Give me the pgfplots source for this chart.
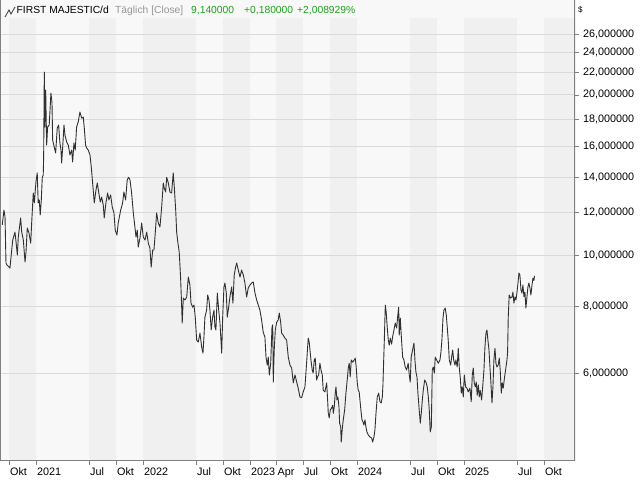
\documentclass[border=0pt]{standalone}
\usepackage{pgfplots}
\pgfplotsset{compat=1.18}
\usepackage{fontspec}
\setmainfont{Liberation Sans}
\definecolor{bglight}{RGB}{248,248,248}
\definecolor{bgdark}{RGB}{240,240,240}
\definecolor{gridc}{RGB}{218,218,218}
\definecolor{framec}{RGB}{128,128,128}
\definecolor{linec}{RGB}{48,48,48}
\definecolor{greenc}{RGB}{30,160,30}
\definecolor{grayt}{RGB}{150,150,150}

\pgfplotstableread{
t v
2020.685 11.39
2020.701 12.15
2020.711 11.79
2020.720 9.66
2020.729 9.58
2020.757 9.45
2020.767 9.91
2020.783 10.67
2020.804 11.04
2020.814 10.58
2020.826 10.00
2020.835 10.81
2020.857 11.74
2020.867 11.04
2020.882 10.67
2020.898 9.70
2020.907 10.13
2020.919 11.24
2020.935 11.00
2020.951 10.53
2020.960 11.49
2020.975 13.08
2020.985 12.53
2021.000 13.72
2021.012 14.27
2021.021 12.53
2021.031 12.69
2021.040 11.89
2021.050 12.69
2021.059 14.00
2021.068 14.14
2021.072 15.29
2021.078 22.07
2021.084 17.40
2021.091 20.43
2021.100 16.10
2021.109 17.40
2021.124 17.56
2021.140 20.16
2021.150 19.31
2021.156 16.45
2021.171 15.96
2021.184 15.55
2021.199 17.33
2021.212 17.56
2021.224 16.24
2021.234 15.75
2021.240 14.89
2021.250 15.96
2021.262 17.56
2021.271 16.81
2021.287 16.31
2021.302 16.10
2021.318 15.42
2021.334 15.75
2021.343 14.96
2021.355 16.24
2021.367 15.75
2021.380 17.40
2021.395 17.79
2021.411 18.57
2021.427 18.09
2021.442 18.17
2021.451 17.40
2021.464 16.10
2021.474 15.89
2021.489 15.75
2021.505 15.42
2021.517 14.64
2021.533 13.42
2021.545 12.53
2021.561 13.25
2021.573 13.66
2021.586 13.14
2021.601 12.58
2021.614 12.85
2021.629 12.42
2021.638 11.74
2021.654 12.53
2021.670 13.08
2021.682 12.69
2021.698 12.97
2021.713 12.31
2021.729 12.00
2021.741 11.14
2021.757 10.90
2021.769 11.49
2021.792 12.15
2021.810 12.53
2021.822 13.14
2021.838 12.69
2021.853 13.84
2021.866 14.00
2021.879 13.84
2021.894 13.08
2021.910 12.00
2021.925 11.29
2021.935 10.81
2021.947 11.14
2021.956 10.35
2021.972 10.76
2021.988 11.49
2022.003 10.81
2022.019 10.67
2022.035 11.04
2022.050 10.53
2022.065 10.31
2022.077 9.49
2022.091 10.22
2022.103 10.22
2022.115 11.00
2022.128 12.00
2022.143 11.49
2022.159 11.29
2022.175 12.31
2022.190 13.66
2022.199 13.37
2022.212 13.14
2022.222 14.00
2022.237 13.66
2022.252 13.14
2022.268 13.08
2022.283 14.27
2022.293 13.42
2022.306 12.15
2022.315 11.04
2022.327 10.53
2022.339 10.13
2022.352 9.05
2022.362 7.98
2022.367 7.45
2022.377 8.30
2022.393 8.23
2022.409 8.34
2022.424 9.09
2022.439 8.78
2022.449 8.12
2022.465 7.98
2022.477 8.05
2022.489 7.64
2022.502 6.92
2022.517 6.86
2022.533 7.13
2022.549 6.71
2022.561 6.54
2022.570 7.01
2022.579 7.64
2022.595 7.88
2022.605 8.41
2022.617 8.23
2022.626 7.88
2022.638 7.23
2022.651 7.64
2022.664 7.88
2022.673 7.32
2022.682 7.23
2022.695 8.48
2022.708 7.88
2022.720 7.45
2022.729 6.92
2022.736 6.54
2022.745 7.64
2022.757 8.71
2022.766 8.86
2022.779 8.48
2022.788 7.64
2022.801 7.98
2022.813 8.34
2022.829 8.71
2022.841 8.12
2022.853 9.17
2022.866 9.49
2022.876 9.66
2022.891 9.37
2022.907 9.09
2022.922 9.37
2022.938 9.17
2022.953 8.86
2022.969 8.34
2022.984 8.67
2023.000 8.78
2023.016 8.86
2023.031 8.90
2023.047 8.48
2023.063 8.23
2023.078 8.05
2023.093 7.88
2023.109 7.55
2023.124 7.16
2023.140 7.01
2023.150 6.43
2023.162 6.21
2023.171 6.43
2023.181 5.95
2023.194 6.26
2023.206 7.32
2023.213 7.39
2023.218 5.77
2023.227 6.63
2023.237 7.23
2023.250 7.48
2023.264 7.55
2023.274 7.78
2023.287 7.48
2023.296 7.13
2023.311 7.07
2023.327 6.98
2023.343 6.92
2023.358 6.43
2023.374 6.21
2023.390 6.13
2023.405 5.75
2023.421 5.95
2023.437 5.77
2023.451 5.62
2023.467 5.41
2023.483 5.39
2023.498 5.53
2023.514 5.65
2023.530 6.29
2023.539 6.71
2023.545 6.98
2023.554 6.86
2023.561 6.63
2023.570 6.35
2023.582 6.08
2023.591 6.00
2023.601 6.35
2023.610 6.40
2023.623 5.82
2023.632 5.90
2023.642 5.95
2023.654 6.26
2023.664 6.08
2023.676 5.95
2023.685 5.57
2023.701 5.53
2023.717 5.75
2023.726 5.34
2023.732 5.04
2023.741 4.94
2023.750 5.11
2023.764 5.16
2023.773 5.22
2023.779 5.04
2023.788 5.18
2023.797 5.50
2023.804 5.65
2023.813 5.34
2023.822 5.41
2023.832 5.18
2023.838 4.83
2023.848 4.75
2023.853 4.45
2023.862 4.69
2023.872 4.90
2023.885 5.11
2023.897 5.50
2023.909 5.82
2023.919 6.13
2023.928 6.26
2023.937 5.90
2023.947 6.35
2023.960 6.29
2023.975 6.35
2023.984 6.40
2023.993 6.16
2024.003 5.75
2024.012 5.57
2024.021 5.53
2024.028 5.34
2024.037 5.11
2024.047 4.90
2024.056 4.86
2024.065 4.79
2024.075 4.90
2024.084 4.75
2024.093 4.65
2024.106 4.59
2024.121 4.55
2024.137 4.53
2024.147 4.45
2024.159 4.55
2024.168 4.69
2024.178 5.04
2024.190 5.41
2024.203 5.50
2024.215 5.30
2024.227 5.27
2024.237 5.41
2024.243 5.70
2024.250 6.35
2024.255 6.83
2024.265 8.05
2024.274 7.78
2024.283 7.32
2024.293 6.92
2024.302 6.77
2024.311 6.98
2024.324 6.80
2024.333 7.01
2024.346 7.23
2024.358 7.45
2024.371 7.29
2024.380 7.64
2024.390 7.98
2024.395 7.07
2024.405 7.61
2024.414 7.07
2024.427 6.43
2024.439 6.35
2024.451 6.16
2024.464 6.08
2024.479 6.26
2024.489 5.95
2024.498 5.77
2024.507 6.43
2024.520 6.63
2024.533 6.83
2024.542 6.35
2024.551 6.03
2024.561 5.90
2024.570 5.50
2024.582 5.11
2024.592 4.83
2024.601 5.04
2024.611 5.34
2024.620 5.57
2024.633 5.82
2024.645 5.77
2024.657 5.65
2024.667 5.41
2024.676 5.11
2024.685 4.65
2024.695 4.75
2024.704 6.08
2024.713 6.16
2024.723 6.00
2024.732 6.43
2024.745 6.35
2024.760 6.26
2024.776 6.35
2024.785 6.57
2024.794 6.92
2024.804 7.61
2024.813 7.88
2024.825 7.95
2024.835 7.71
2024.844 7.32
2024.853 6.92
2024.863 6.35
2024.876 6.21
2024.885 6.43
2024.895 6.63
2024.904 6.35
2024.916 6.21
2024.925 6.35
2024.937 6.16
2024.947 6.68
2024.956 6.16
2024.966 5.87
2024.975 5.50
2024.984 5.65
2024.994 5.41
2025.003 5.95
2025.016 5.65
2025.028 5.62
2025.040 5.53
2025.056 5.62
2025.068 5.30
2025.078 5.95
2025.087 6.13
2025.096 5.75
2025.106 5.65
2025.115 5.77
2025.124 5.45
2025.134 5.70
2025.143 5.41
2025.152 5.57
2025.165 5.34
2025.175 5.65
2025.187 6.08
2025.196 6.71
2025.206 7.13
2025.215 7.23
2025.224 6.92
2025.234 6.63
2025.243 6.16
2025.252 5.75
2025.262 5.27
2025.271 5.65
2025.280 6.35
2025.290 6.68
2025.299 6.26
2025.308 6.16
2025.320 6.21
2025.330 6.40
2025.339 6.08
2025.349 5.50
2025.358 5.75
2025.367 5.62
2025.380 5.90
2025.393 6.16
2025.402 6.35
2025.408 6.57
2025.414 7.64
2025.423 8.41
2025.436 8.30
2025.449 8.34
2025.458 8.52
2025.467 8.12
2025.477 8.34
2025.486 8.23
2025.495 8.48
2025.505 8.86
2025.514 9.25
2025.523 9.17
2025.533 8.59
2025.542 8.48
2025.551 8.78
2025.561 8.34
2025.570 8.52
2025.579 7.95
2025.589 8.34
2025.598 8.71
2025.607 8.86
2025.617 8.67
2025.626 8.41
2025.636 8.78
2025.645 9.05
2025.654 8.96
2025.660 9.14
}\price

\begin{document}
\begin{tikzpicture}
\path[use as bounding box] (0,-19bp) rectangle (640bp,461bp);
\begin{axis}[
  at={(0,0)}, anchor=south west,
  scale only axis, width=575bp, height=461bp,
  xmin=2020.664, xmax=2026.038,
  ymode=log, ymin=4.10, ymax=30.16,
  axis line style={draw=none},
  ytick={6,8,10,12,14,16,18,20,22,24,26},
  yticklabels={{6,000000},{8,000000},{10,000000},{12,000000},{14,000000},{16,000000},{18,000000},{20,000000},{22,000000},{24,000000},{26,000000}},
  yminorticks=false, xminorticks=false,
  ytick pos=right, xtick pos=bottom,
  tick align=outside, major tick length=4bp,
  tick style={framec, line width=0.8bp},
  xtick={2020.748,2021,2021.496,2021.748,2022,2022.496,2022.748,2023,2023.247,2023.496,2023.748,2024,2024.496,2024.748,2025,2025.496,2025.748},
  xticklabels={Okt,2021,Jul,Okt,2022,Jul,Okt,2023,Apr,Jul,Okt,2024,Jul,Okt,2025,Jul,Okt},
  tick label style={font=\fontsize{10.8bp}{13bp}\selectfont, text=black},
  xticklabel style={anchor=base west, inner sep=0pt, xshift=1bp, yshift=-11bp},
  yticklabel style={anchor=west, inner sep=0pt, xshift=4bp},
]
\fill[bglight] (axis cs:2020.664,4.10) rectangle (axis cs:2026.038,30.16);
\fill[bgdark] (axis cs:2020.748,4.10) rectangle (axis cs:2021.000,30.16);
\fill[bgdark] (axis cs:2021.496,4.10) rectangle (axis cs:2021.748,30.16);
\fill[bgdark] (axis cs:2022.000,4.10) rectangle (axis cs:2022.496,30.16);
\fill[bgdark] (axis cs:2022.748,4.10) rectangle (axis cs:2023.000,30.16);
\fill[bgdark] (axis cs:2023.247,4.10) rectangle (axis cs:2023.496,30.16);
\fill[bgdark] (axis cs:2023.748,4.10) rectangle (axis cs:2024.000,30.16);
\fill[bgdark] (axis cs:2024.496,4.10) rectangle (axis cs:2024.748,30.16);
\fill[bgdark] (axis cs:2025.000,4.10) rectangle (axis cs:2025.496,30.16);
\fill[bgdark] (axis cs:2025.748,4.10) rectangle (axis cs:2026.038,30.16);
\fill[bglight] (axis cs:2020.664,27.9) rectangle (axis cs:2026.038,30.16);
\foreach \g in {6,8,10,12,14,16,18,20,22,24,26}{
  \edef\tmp{\noexpand\draw[gridc, line width=1bp] (axis cs:2020.664,\g) -- (axis cs:2026.038,\g);}
  \tmp
}
\addplot[linec, line width=0.9bp, line join=round] table[x=t, y=v] {\price};
\draw[framec, line width=1.2bp] (rel axis cs:0,1) -- (rel axis cs:0,0) -- (rel axis cs:1,0) -- (rel axis cs:1,1);
\end{axis}
% title bar
\draw[linec, line width=0.8bp] (5bp,444bp) -- (9bp,451bp) -- (11bp,447bp) -- (15bp,454bp);
\node[anchor=base west, inner sep=0pt, font=\fontsize{10.3bp}{12bp}\selectfont] at (16.5bp,447bp) {FIRST MAJESTIC/d};
\node[anchor=base west, inner sep=0pt, font=\fontsize{10.3bp}{12bp}\selectfont, text=grayt] at (115bp,447bp) {Täglich [Close]};
\node[anchor=base west, inner sep=0pt, font=\fontsize{10.3bp}{12bp}\selectfont, text=greenc] at (191bp,447bp) {9,140000};
\node[anchor=base west, inner sep=0pt, font=\fontsize{10.3bp}{12bp}\selectfont, text=greenc] at (244bp,447bp) {+0,180000};
\node[anchor=base west, inner sep=0pt, font=\fontsize{10.3bp}{12bp}\selectfont, text=greenc] at (297bp,447bp) {+2,008929\%};
\node[anchor=west, inner sep=0pt, font=\fontsize{8bp}{9bp}\selectfont] at (578bp,451bp) {\$};
\end{tikzpicture}
\end{document}
